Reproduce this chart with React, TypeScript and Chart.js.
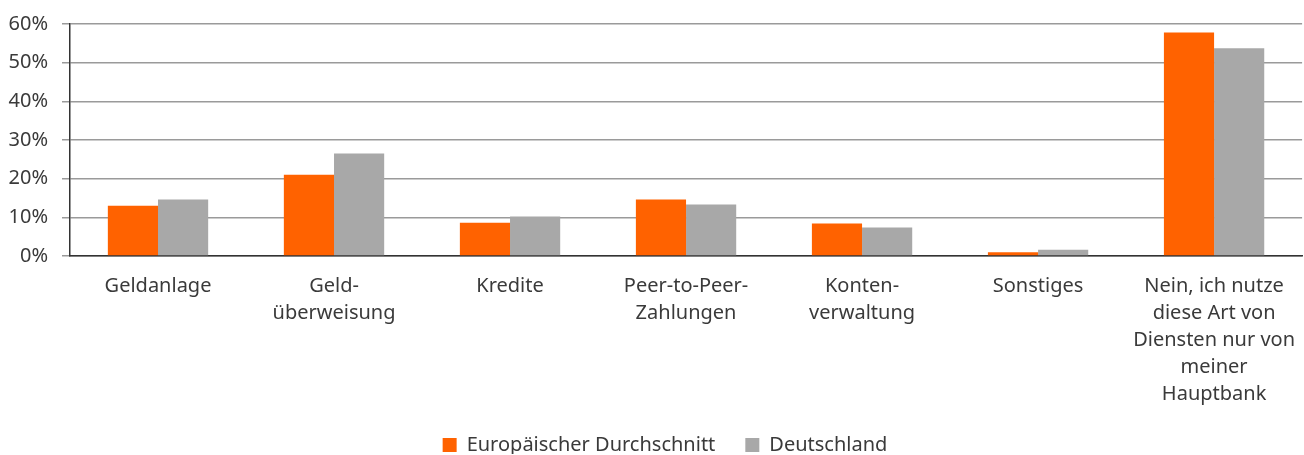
import React, { useEffect, useRef } from "react";
import { Chart, registerables } from "chart.js";

Chart.register(...registerables);

const categories: (string | string[])[] = [
  "Geldanlage",
  ["Geld-", "überweisung"],
  "Kredite",
  ["Peer-to-Peer-", "Zahlungen"],
  ["Konten-", "verwaltung"],
  "Sonstiges",
  ["Nein, ich nutze", "diese Art von", "Diensten nur von", "meiner", "Hauptbank"],
];

const europa = [13.0, 21.0, 8.6, 14.6, 8.4, 1.0, 57.8];
const deutschland = [14.6, 26.5, 10.2, 13.3, 7.4, 1.6, 53.7];

const yTicks = [0, 10, 20, 30, 40, 50, 60];

const FONT = "'Noto Sans', sans-serif";
const TEXT = "#3a3a3a";

const legendShift = {
  id: "legendShift",
  afterLayout(chart: any) {
    const lg = chart.legend;
    if (lg) {
      lg.top -= 1;
      lg.bottom -= 1;
      lg.left += 13;
      lg.right += 13;
    }
  },
};

export default function App() {
  const ref = useRef<HTMLCanvasElement | null>(null);
  useEffect(() => {
    document.body.style.margin = "0";
    const canvas = ref.current!;
    const chart = new Chart(canvas, {
      type: "bar",
      data: {
        labels: categories,
        datasets: [
          {
            label: "Europäischer Durchschnitt",
            data: europa,
            backgroundColor: "#FF6200",
            barPercentage: 1,
            categoryPercentage: 0.57,
          },
          {
            label: "Deutschland",
            data: deutschland,
            backgroundColor: "#A8A8A8",
            barPercentage: 1,
            categoryPercentage: 0.57,
          },
        ],
      },
      plugins: [legendShift],
      options: {
        animation: false,
        responsive: false,
        maintainAspectRatio: false,
        layout: { padding: { top: 23, right: 0, left: 0, bottom: 0 } },
        plugins: {
          tooltip: { enabled: false },
          legend: {
            position: "bottom",
            maxHeight: 49,
            labels: {
              boxWidth: 14,
              boxHeight: 14,
              padding: 30,
              color: TEXT,
              font: { family: FONT, size: 20 },
            },
          },
        },
        scales: {
          x: {
            grid: { display: false },
            border: { display: true, color: "#333333", width: 1.5 },
            afterFit: (axis: any) => {
              axis.height = 150;
            },
            ticks: {
              color: TEXT,
              font: { family: FONT, size: 20, lineHeight: 1.35 },
              maxRotation: 0,
              autoSkip: false,
              padding: 9,
            },
          },
          y: {
            min: 0,
            max: 60,
            afterBuildTicks: (axis: any) => {
              axis.ticks = yTicks.map((v) => ({ value: v }));
            },
            afterFit: (axis: any) => {
              axis.width = 70;
            },
            grid: { color: "#9A9A9A", lineWidth: 1.5, tickLength: 8 },
            border: { display: true, color: "#333333", width: 1.5 },
            ticks: {
              color: TEXT,
              font: { family: FONT, size: 20, lineHeight: 1 },
              padding: 14,
              callback: (v: any) => v + "%",
            },
          },
        },
      },
    });
    return () => chart.destroy();
  }, []);
  return <canvas ref={ref} width={1304} height={455} style={{ display: "block" }} />;
}
